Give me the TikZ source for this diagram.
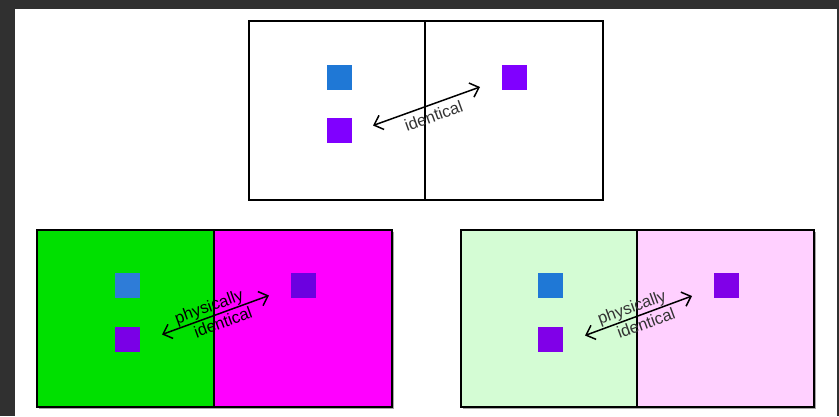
\documentclass[tikz,border=0pt]{standalone}
\usepackage{fontspec}
\setmainfont{Liberation Sans}
\usetikzlibrary{arrows.meta}
\definecolor{framegray}{HTML}{303030}
\definecolor{sqblue}{HTML}{1F78D6}
\definecolor{sqpurple}{HTML}{8000FF}
\definecolor{vgreen}{HTML}{00E000}
\definecolor{vmagenta}{HTML}{FF00FF}
\definecolor{lgreen}{HTML}{D4FCD4}
\definecolor{lpink}{HTML}{FFD0FF}
\definecolor{blueA}{HTML}{2E7CD8}
\definecolor{purpA}{HTML}{7A00E6}
\definecolor{purpB}{HTML}{6C00E0}
\definecolor{purpC}{HTML}{8000E8}
\definecolor{lbltext}{HTML}{333333}
\tikzset{
  half/.style={draw=black, line width=1.3pt, minimum height=179pt, inner sep=0pt},
  halfb/.style={half, minimum height=177pt},
  shadowed/.style={preaction={fill=black!35, transform canvas={xshift=1.8pt, yshift=-1.8pt}}},
  sq/.style={minimum size=25pt, inner sep=0pt, draw=none},
  arr/.style={line width=1.5pt, draw=black, {Straight Barb[length=8pt,width=15pt,line width=1.5pt]}-{Straight Barb[length=8pt,width=15pt,line width=1.5pt]}},
  lbl/.style={font=\fontsize{16.5}{17}\selectfont, text=lbltext, inner sep=0.5pt, align=center}
}
\begin{document}
\begin{tikzpicture}[x=1pt,y=-1pt]
\fill[framegray] (0,0) rectangle (839,416);
\fill[white] (15,9) rectangle (837,416);
\useasboundingbox (0,0) rectangle (839,416);

% top diagram
\node[half, fill=white, minimum width=176pt] (tl) at (337,110.5) {};
\node[half, fill=white, minimum width=178pt] (tr) at (514,110.5) {};
\node[sq, fill=sqblue] (tb) at (339,77.5) {};
\node[sq, fill=sqpurple] (tp) at (339,130.5) {};
\node[sq, fill=sqpurple] (trp) at (514,77.5) {};
\coordinate (ta) at (373,125.5);
\coordinate (tz) at (480,87);
\draw[arr] (ta) -- node[sloped, pos=0.53, below=4pt, lbl] {identical} (tz);

% bottom left diagram
\node[halfb, shadowed, fill=vgreen, minimum width=177pt] (bll) at (125.5,318.5) {};
\node[halfb, shadowed, fill=vmagenta, minimum width=178pt] (blr) at (303,318.5) {};
\node[halfb, fill=vgreen, minimum width=177pt] at (bll) {};
\node[sq, fill=blueA] (blb) at (127.5,285.5) {};
\node[sq, fill=purpA] (blp) at (127.5,339) {};
\node[sq, fill=purpB] (blrp) at (303.5,285.5) {};
\coordinate (bla) at (162,334.5);
\coordinate (blz) at (269,295.5);
\draw[arr] (bla) -- node[sloped, pos=0.47, above=0pt, lbl, text=black] {physically} node[sloped, pos=0.54, below=2pt, lbl, text=black] {identical} (blz);

% bottom right diagram
\node[halfb, shadowed, fill=lgreen, minimum width=176pt] (brl) at (549,318.5) {};
\node[halfb, shadowed, fill=lpink, minimum width=177pt] (brr) at (725.5,318.5) {};
\node[halfb, fill=lgreen, minimum width=176pt] at (brl) {};
\node[sq, fill=sqblue] (brb) at (550.5,285.5) {};
\node[sq, fill=purpC] (brp) at (550.5,339) {};
\node[sq, fill=purpC] (brrp) at (726.5,285.5) {};
\coordinate (bra) at (585,335.5);
\coordinate (brz) at (692,296);
\draw[arr] (bra) -- node[sloped, pos=0.47, above=0pt, lbl] {physically} node[sloped, pos=0.54, below=2pt, lbl] {identical} (brz);
\end{tikzpicture}
\end{document}
